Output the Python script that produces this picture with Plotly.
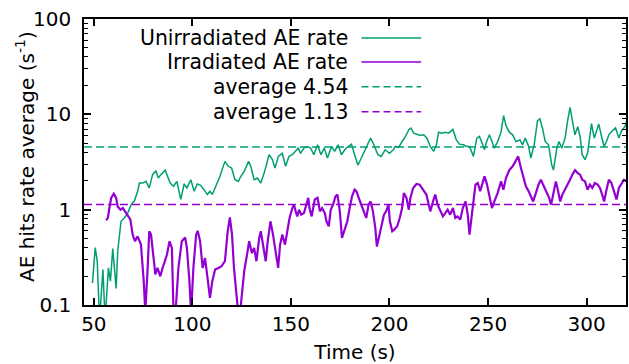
import plotly.graph_objects as go

# ---------------- data ----------------
unirr_t = [49.3, 50.7, 51.7, 52.9, 54.6, 55.7, 57.4, 58.4, 59.6, 61.3, 62.1, 63.8, 65.5, 67.2, 68.9,
           70.6, 72.2, 73.1, 74.8, 76.4, 78.1, 79.8, 81.5, 82.7, 84.0, 86.2, 88.7, 90.4, 92.1, 94.1,
           95.8, 97.2, 99.2, 100.9, 102.5, 104.2, 105.9, 107.6, 108.9, 110.1, 111.5, 114.0, 116.5,
           118.2, 119.9, 121.6, 123.3, 124.6, 126.3, 128.5, 129.6, 131.3, 133.0, 134.7, 136.4, 138.9,
           140.6, 141.9, 143.6, 145.6, 147.3, 149.0, 150.7, 152.4, 153.7, 154.9, 156.6, 158.3, 160.0,
           161.6, 163.5, 165.2, 166.9, 168.5, 170.6, 172.2, 173.9, 175.6, 177.3, 179.0, 180.7, 182.3,
           184.0, 185.7, 188.2, 190.4, 192.1, 194.1, 195.8, 197.8, 200.0, 201.9, 203.0, 204.7, 206.4,
           208.1, 209.8, 210.9, 212.3, 214.0, 215.7, 217.4, 219.0, 220.7, 222.4, 223.8, 224.9, 226.6,
           228.3, 230.0, 232.2, 233.9, 235.5, 237.6, 238.9, 240.6, 242.6, 244.3, 245.6, 247.0, 248.2,
           249.3, 250.7, 252.0, 253.2, 254.9, 256.6, 257.9, 259.1, 260.8, 262.5, 264.2, 266.2, 267.5,
           268.9, 270.6, 271.7, 273.4, 275.1, 276.3, 277.6, 279.0, 280.7, 282.3, 283.2, 284.9, 286.0,
           287.4, 289.1, 290.4, 291.6, 292.8, 294.1, 295.5, 296.7, 297.8, 299.2, 300.5, 301.7, 302.5,
           303.9, 305.1, 306.2, 307.6, 308.9, 310.1, 311.3, 313.0, 314.7, 316.4, 317.7, 319.4, 320.6]
unirr_rate = [0.17, 0.40, 0.29, 0.07, 0.235, 0.07, 0.245, 0.178, 0.39, 0.149, 0.366, 0.755, 0.818, 0.92, 1.13,
              1.24, 1.56, 1.9, 1.9, 1.98, 1.69, 2.33, 2.56, 2.15, 2.33, 2.6, 1.9, 1.76, 1.98, 1.28,
              1.86, 1.69, 2.06, 1.56, 1.86, 1.8, 1.62, 1.44, 1.56, 1.44, 1.69, 2.24, 3.21,
              2.85, 2.73, 2.06, 1.98, 2.24, 2.52, 3.21, 2.85, 2.06, 2.15, 1.9, 2.42, 3.77,
              3.35, 2.73, 3.62, 3.9, 2.85, 3.62, 3.77, 4.08, 4.42, 3.9, 4.42, 4.6, 4.42,
              3.77, 4.79, 3.77, 4.42, 3.48, 4.6, 4.08, 4.79, 3.77, 4.25, 4.6, 4.87, 3.77,
              2.92, 3.48, 4.6, 5.63, 4.79, 3.77, 3.62, 4.25, 3.9, 4.25, 4.6, 4.5, 5.19,
              5.86, 6.9, 7.16, 6.35, 6.2, 6.0, 6.1, 5.63, 4.6, 4.08, 4.79, 6.5, 6.35,
              6.5, 6.35, 6.95, 5.4, 4.87, 4.79, 4.6, 4.6, 3.62, 5.63, 5.86, 5.0, 4.25,
              5.19, 6.1, 5.19, 4.42, 5.19, 6.5, 9.7, 7.6, 6.5, 6.1, 5.19, 5.4, 4.79,
              5.63, 4.6, 3.48, 4.79, 8.6, 9.0, 7.2, 5.19, 4.79, 2.96, 2.6, 4.42, 5.19,
              4.42, 5.63, 8.6, 11.8, 8.6, 6.1, 7.4, 5.86, 3.77, 3.35, 3.9, 5.63, 8.0,
              5.63, 6.7, 7.9, 5.86, 4.6, 5.19, 6.1, 6.7, 7.2, 5.63, 6.7, 7.4, 8.7]

irr_t = [56.2, 57.1, 57.9, 58.8, 60.1, 61.3, 62.1, 63.5, 64.7, 65.8, 67.2, 68.5, 69.7, 70.9, 72.2,
         73.9, 75.3, 76.1, 77.3, 78.1, 79.0, 80.2, 81.2, 82.3, 83.7, 84.9, 87.1, 88.4, 89.6, 90.4,
         91.2, 92.9, 94.6, 96.3, 97.2, 98.5, 99.3, 100.5, 101.9, 102.7, 103.9, 105.2, 106.4, 108.1,
         108.9, 110.1, 111.5, 113.2, 114.8, 116.5, 117.9, 119.0, 120.1, 121.1, 122.4, 123.3, 124.6,
         126.3, 128.0, 128.8, 130.2, 131.3, 132.5, 133.9, 134.7, 135.9, 137.2, 138.2, 139.6, 140.9,
         142.3, 143.5, 144.5, 145.6, 147.0, 148.2, 149.3, 150.7, 151.5, 152.4, 153.2, 154.1, 155.2,
         156.6, 157.8, 158.8, 159.4, 160.5, 162.1, 163.5, 164.7, 165.8, 167.2, 168.0, 169.2, 170.2,
         171.4, 172.6, 173.6, 174.8, 175.9, 177.3, 178.6, 179.8, 181.0, 182.3, 183.2, 184.4, 185.7,
         187.1, 188.2, 189.4, 190.4, 191.6, 192.8, 193.6, 195.0, 195.8, 197.2, 198.3, 199.5, 200.2,
         201.4, 202.5, 203.9, 205.2, 206.4, 207.3, 208.6, 209.8, 210.6, 212.0, 213.7, 215.3, 217.0,
         218.7, 219.9, 220.7, 222.1, 223.2, 224.4, 225.8, 227.1, 228.3, 229.5, 230.8, 232.2, 233.4,
         234.5, 235.9, 237.2, 238.6, 239.7, 240.6, 241.4, 242.6, 243.6, 244.8, 246.0, 247.0, 248.2,
         249.3, 250.7, 252.0, 253.2, 254.9, 256.6, 257.8, 259.1, 260.8, 262.5, 264.2, 265.3, 266.7,
         267.9, 269.2, 270.6, 271.7, 272.9, 274.3, 275.6, 276.8, 277.6, 278.6, 279.8, 281.0, 282.0,
         283.2, 284.4, 285.4, 286.6, 287.7, 289.1, 290.4, 291.6, 292.8, 294.1, 295.5, 296.7, 297.8,
         299.2, 300.5, 301.7, 302.9, 304.2, 305.6, 306.8, 307.9, 308.9, 310.1, 311.3, 312.6, 314.0,
         315.2, 316.4, 317.7, 319.0, 320.2]
irr_rate = [0.77, 0.82, 1.04, 1.33, 1.47, 1.33, 1.08, 1.0, 1.04, 0.96, 0.886, 0.79, 0.547, 0.466, 0.525,
            0.43, 0.178, 0.085, 0.245, 0.593, 0.55, 0.338, 0.209, 0.245, 0.2, 0.245, 0.338, 0.466, 0.397, 0.085,
            0.07, 0.245, 0.466, 0.51, 0.397, 0.178, 0.08, 0.245, 0.547, 0.6, 0.466, 0.245, 0.312, 0.164,
            0.119, 0.178, 0.235, 0.245, 0.255, 0.288, 0.593, 0.83, 0.547, 0.245, 0.129, 0.08, 0.101,
            0.226, 0.366, 0.466, 0.35, 0.397, 0.288, 0.505, 0.593, 0.397, 0.288, 0.466, 0.755, 0.547,
            0.338, 0.245, 0.43, 0.547, 0.43, 0.593, 0.818, 1.04, 1.13, 0.96, 0.85, 1.0, 0.886,
            0.92, 1.13, 1.33, 1.04, 0.85, 1.28, 1.33, 0.96, 1.04, 0.92, 0.755, 0.67, 1.0,
            1.13, 1.38, 1.44, 0.96, 0.505, 0.643, 0.755, 1.04, 1.38, 1.62, 1.56, 1.33, 1.13,
            0.96, 0.818, 1.13, 1.22, 0.96, 0.643, 0.41, 0.547, 0.643, 0.886, 0.96, 1.13, 0.755,
            0.593, 0.62, 0.67, 0.818, 1.04, 1.5, 1.33, 1.0, 1.33, 1.69, 1.86, 1.83, 1.62,
            1.44, 1.13, 0.96, 1.22, 1.44, 1.13, 0.96, 0.85, 0.92, 1.0, 0.886, 1.04, 0.818,
            0.85, 0.79, 1.04, 1.22, 0.886, 0.547, 0.755, 1.13, 1.83, 1.9, 1.56, 1.83, 2.24,
            1.9, 1.44, 1.04, 1.22, 1.5, 1.98, 1.62, 2.15, 2.6, 2.85, 3.35, 3.62, 2.73,
            2.15, 1.76, 1.56, 1.38, 1.22, 1.5, 1.83, 2.06, 1.9, 1.69, 1.56, 1.33, 1.13,
            1.44, 1.98, 1.62, 1.22, 1.44, 1.62, 1.83, 2.06, 2.33, 2.6, 2.42, 2.33, 2.06,
            1.98, 1.62, 1.83, 1.69, 1.9, 1.83, 1.69, 1.44, 1.22, 1.62, 2.06, 1.9, 1.56,
            1.28, 1.69, 1.9, 2.06, 1.98]

avg_unirr = 4.54
avg_irr = 1.13

legend_labels = ["Unirradiated AE rate", "Irradiated AE rate", "average 4.54", "average 1.13"]
x_title = "Time (s)"
y_title = "AE hits rate average (s<sup>-1</sup>)"

# ---------------- styling ----------------
GREEN = "#009e73"
PURPLE = "#9400d3"
FONT = "DejaVu Sans"
FS = 20
X_RANGE = [45, 320]

fig = go.Figure()
fig.add_trace(go.Scatter(x=unirr_t, y=unirr_rate, mode="lines",
                         line=dict(color=GREEN, width=1.5), name=legend_labels[0]))
fig.add_trace(go.Scatter(x=irr_t, y=irr_rate, mode="lines",
                         line=dict(color=PURPLE, width=2.2), name=legend_labels[1]))
fig.add_trace(go.Scatter(x=X_RANGE, y=[avg_unirr, avg_unirr], mode="lines",
                         line=dict(color=GREEN, width=1.5, dash="8px,4px"), name=legend_labels[2]))
fig.add_trace(go.Scatter(x=X_RANGE, y=[avg_irr, avg_irr], mode="lines",
                         line=dict(color=PURPLE, width=1.5, dash="8px,4px"), name=legend_labels[3]))

# manual gnuplot-style legend: right-aligned text, sample line on its right
leg_styles = [dict(color=GREEN, width=1.5), dict(color=PURPLE, width=1.5),
              dict(color=GREEN, width=1.5, dash="7px,4px"), dict(color=PURPLE, width=1.5, dash="7px,4px")]
row_y = [0.934, 0.850, 0.763, 0.676]
for lab, st, yy in zip(legend_labels, leg_styles, row_y):
    fig.add_annotation(x=0.491, y=yy, xref="paper", yref="paper", text=lab, showarrow=False,
                       xanchor="right", yanchor="middle", font=dict(family=FONT, size=20.4, color="black"))
    fig.add_shape(type="line", xref="paper", yref="paper", x0=0.512, x1=0.622, y0=yy, y1=yy, line=st)

# y-axis title placed as rotated annotation (centre at ~25 px from the left edge)
fig.add_annotation(x=-0.1085, y=0.518, xref="paper", yref="paper", text=y_title, showarrow=False,
                   textangle=-90, xanchor="center", yanchor="middle",
                   font=dict(family=FONT, size=FS, color="black"))

fig.update_layout(
    width=629, height=364,
    margin=dict(l=84, r=1, t=19, b=59),
    paper_bgcolor="white", plot_bgcolor="white",
    font=dict(family=FONT, size=FS, color="black"),
    showlegend=False,
)
fig.update_xaxes(range=X_RANGE, showgrid=False, zeroline=False,
                 showline=True, linecolor="black", linewidth=1.5, mirror="allticks",
                 ticks="inside", ticklen=7, tickwidth=1.5, tickcolor="black",
                 tickvals=[50, 100, 150, 200, 250, 300],
                 title=dict(text=x_title, standoff=12, font=dict(family=FONT, size=FS)))
fig.update_yaxes(type="log", range=[-1, 2], showgrid=False, zeroline=False,
                 showline=True, linecolor="black", linewidth=1.5, mirror="allticks",
                 ticks="inside", ticklen=7, tickwidth=1.5, tickcolor="black", dtick=1,
                 ticklabelstandoff=7,
                 minor=dict(ticks="inside", ticklen=4, tickwidth=1, tickcolor="black", showgrid=False))

fig.write_html("out.html")
